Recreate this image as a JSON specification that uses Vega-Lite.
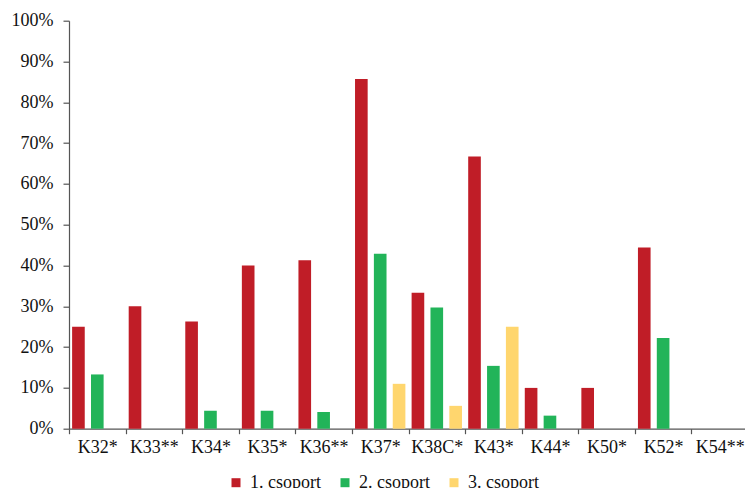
{
  "$schema": "https://vega.github.io/schema/vega-lite/v6.json",
  "width": 679,
  "height": 408,
  "autosize": {"type": "none"},
  "padding": {"left": 69, "top": 20.7, "right": 0, "bottom": 59.3},
  "background": "white",
  "data": {
    "values": [
      {"kod": "K32*", "csoport": "1. csoport", "arany": 25.0},
      {"kod": "K32*", "csoport": "2. csoport", "arany": 13.3},
      {"kod": "K32*", "csoport": "3. csoport", "arany": 0},
      {"kod": "K33**", "csoport": "1. csoport", "arany": 30.0},
      {"kod": "K33**", "csoport": "2. csoport", "arany": 0},
      {"kod": "K33**", "csoport": "3. csoport", "arany": 0},
      {"kod": "K34*", "csoport": "1. csoport", "arany": 26.3},
      {"kod": "K34*", "csoport": "2. csoport", "arany": 4.4},
      {"kod": "K34*", "csoport": "3. csoport", "arany": 0},
      {"kod": "K35*", "csoport": "1. csoport", "arany": 40.0},
      {"kod": "K35*", "csoport": "2. csoport", "arany": 4.4},
      {"kod": "K35*", "csoport": "3. csoport", "arany": 0},
      {"kod": "K36**", "csoport": "1. csoport", "arany": 41.3},
      {"kod": "K36**", "csoport": "2. csoport", "arany": 4.1},
      {"kod": "K36**", "csoport": "3. csoport", "arany": 0},
      {"kod": "K37*", "csoport": "1. csoport", "arany": 85.7},
      {"kod": "K37*", "csoport": "2. csoport", "arany": 42.9},
      {"kod": "K37*", "csoport": "3. csoport", "arany": 11.0},
      {"kod": "K38C*", "csoport": "1. csoport", "arany": 33.3},
      {"kod": "K38C*", "csoport": "2. csoport", "arany": 29.7},
      {"kod": "K38C*", "csoport": "3. csoport", "arany": 5.6},
      {"kod": "K43*", "csoport": "1. csoport", "arany": 66.7},
      {"kod": "K43*", "csoport": "2. csoport", "arany": 15.4},
      {"kod": "K43*", "csoport": "3. csoport", "arany": 25.0},
      {"kod": "K44*", "csoport": "1. csoport", "arany": 10.0},
      {"kod": "K44*", "csoport": "2. csoport", "arany": 3.2},
      {"kod": "K44*", "csoport": "3. csoport", "arany": 0},
      {"kod": "K50*", "csoport": "1. csoport", "arany": 10.0},
      {"kod": "K50*", "csoport": "2. csoport", "arany": 0},
      {"kod": "K50*", "csoport": "3. csoport", "arany": 0},
      {"kod": "K52*", "csoport": "1. csoport", "arany": 44.4},
      {"kod": "K52*", "csoport": "2. csoport", "arany": 22.2},
      {"kod": "K52*", "csoport": "3. csoport", "arany": 0},
      {"kod": "K54**", "csoport": "1. csoport", "arany": 0},
      {"kod": "K54**", "csoport": "2. csoport", "arany": 0},
      {"kod": "K54**", "csoport": "3. csoport", "arany": 0}
    ]
  },
  "mark": {"type": "bar"},
  "encoding": {
    "x": {
      "field": "kod",
      "type": "nominal",
      "sort": null,
      "scale": {"paddingInner": 0, "paddingOuter": 0},
      "axis": {
        "title": null,
        "labelAngle": 0,
        "tickBand": "extent",
        "tickSize": 5,
        "labelPadding": 5,
        "domainColor": "#555555",
        "tickColor": "#555555"
      }
    },
    "xOffset": {
      "field": "csoport",
      "type": "nominal",
      "sort": ["1. csoport", "2. csoport", "3. csoport"],
      "scale": {"paddingInner": 0.33, "paddingOuter": 0.165}
    },
    "y": {
      "field": "arany",
      "type": "quantitative",
      "scale": {"domain": [0, 100], "nice": false},
      "axis": {
        "title": null,
        "values": [0, 10, 20, 30, 40, 50, 60, 70, 80, 90, 100],
        "labelExpr": "datum.value + '%'",
        "grid": false,
        "tickSize": 6,
        "labelPadding": 10,
        "domainColor": "#555555",
        "tickColor": "#555555"
      }
    },
    "color": {
      "field": "csoport",
      "type": "nominal",
      "scale": {
        "domain": ["1. csoport", "2. csoport", "3. csoport"],
        "range": ["#C01D27", "#22B459", "#FFD66E"]
      },
      "legend": {
        "title": null,
        "orient": "none",
        "direction": "horizontal",
        "legendX": 158,
        "legendY": 453,
        "symbolType": "square",
        "symbolSize": 81,
        "symbolStrokeWidth": 0,
        "labelOffset": 5,
        "columnPadding": 15
      }
    }
  },
  "config": {
    "view": {"stroke": null},
    "font": "Liberation Serif",
    "axis": {
      "labelFont": "Liberation Serif",
      "labelFontSize": 18,
      "labelColor": "#111111",
      "domainWidth": 1.2,
      "tickWidth": 1.2
    },
    "legend": {
      "labelFont": "Liberation Serif",
      "labelFontSize": 18,
      "labelColor": "#111111"
    }
  }
}
